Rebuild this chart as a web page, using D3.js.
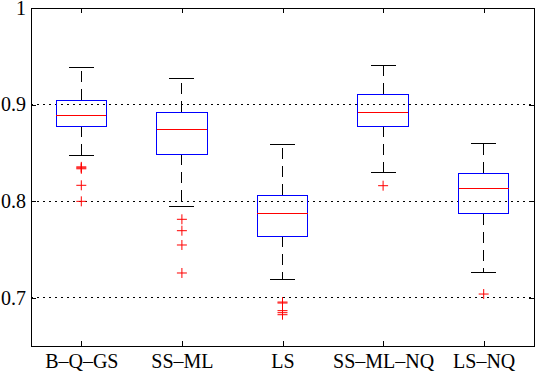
<!DOCTYPE html>
<html>
<head>
  <meta charset="UTF-8"/>
  <title>Box plot</title>
  <style>
    body { margin: 0; background: #fff; }
    svg { display: block; }
    .grid { stroke: #000; stroke-dasharray: 1.5,4.5; }
    .whisker { stroke: #000; stroke-dasharray: 11,7; }
    line, rect { shape-rendering: crispEdges; }
  </style>
  <script src="https://d3js.org/d3.v7.min.js"></script>
</head>
<body>
<svg width="536" height="372"></svg>
<script>
// data
var categories = ["B\u2013Q\u2013GS", "SS\u2013ML", "LS", "SS\u2013ML\u2013NQ", "LS\u2013NQ"];
var upper  = [0.9386, 0.9272, 0.8589, 0.9407, 0.8599];
var q3     = [0.9044, 0.8919, 0.8061, 0.9106, 0.8288];
var median = [0.8889, 0.8744, 0.7874, 0.8920, 0.8133];
var q1     = [0.8775, 0.8485, 0.7636, 0.8775, 0.7867];
var lower  = [0.8475, 0.7943, 0.7191, 0.8299, 0.7266];
var outliers = [
  [0.8335, 0.8345, 0.8355, 0.8164, 0.7998],
  [0.7812, 0.7694, 0.7546, 0.7256],
  [0.6945, 0.6955, 0.6866, 0.6845, 0.6824],
  [0.8160],
  [0.7038]
];
var yTicks = [0.7, 0.8, 0.9, 1];
var yTickLabels = ["0.7", "0.8", "0.9", "1"];

var serif = "'Liberation Serif', 'DejaVu Serif', 'Times New Roman', serif";

var svg = d3.select("svg"),
    margin = {top: 8, right: 2, bottom: 26, left: 31},
    width = +svg.attr("width") - margin.left - margin.right,
    height = +svg.attr("height") - margin.top - margin.bottom;

var x = d3.scaleLinear().domain([0.5, 5.5]).range([0, width]),
    y = d3.scaleLinear().domain([0.65, 1]).range([height, 0]);

var g = svg.append("g")
    .attr("transform", "translate(" + margin.left + "," + margin.top + ")");

// dotted grid
g.selectAll(".grid")
  .data(yTicks.filter(function(t) { return t < 1; }))
  .enter().append("line")
    .attr("class", "grid")
    .attr("x1", 0).attr("x2", width)
    .attr("y1", function(d) { return y(d); })
    .attr("y2", function(d) { return y(d); });

// axes, ticks pointing inward
var xIdx = categories.map(function(d, i) { return i + 1; });

g.append("g")
    .attr("class", "axis")
    .attr("transform", "translate(0," + height + ")")
    .call(d3.axisBottom(x).tickValues(xIdx).tickSize(-5).tickPadding(8)
      .tickFormat(function(d) { return categories[d - 1]; }));
g.append("g")
    .call(d3.axisTop(x).tickValues(xIdx).tickSize(-5).tickFormat(""));
g.append("g")
    .attr("class", "axis")
    .call(d3.axisLeft(y).tickValues(yTicks).tickSize(-5).tickPadding(5)
      .tickFormat(function(d, i) { return yTickLabels[i]; }));
g.append("g")
    .attr("transform", "translate(" + width + ",0)")
    .call(d3.axisRight(y).tickValues(yTicks).tickSize(-5).tickFormat(""));

g.selectAll(".domain").remove();
g.selectAll(".tick line").attr("stroke", "#000");
g.selectAll(".axis")
    .attr("font-family", serif)
    .attr("font-size", 20);
g.selectAll(".tick text").attr("fill", "#000");

// box plots
var boxes = g.selectAll(".box")
  .data(categories)
  .enter().append("g")
    .attr("class", "box");

var bw = x(1.25) - x(1),   // half box width
    cw = x(1.125) - x(1);  // half cap width

boxes.each(function(d, i) {
  var b = d3.select(this), cx = x(i + 1);

  b.append("line").attr("class", "whisker")
    .attr("x1", cx).attr("x2", cx)
    .attr("y1", y(q3[i])).attr("y2", y(upper[i]));
  b.append("line").attr("class", "whisker")
    .attr("x1", cx).attr("x2", cx)
    .attr("y1", y(q1[i])).attr("y2", y(lower[i]));

  [upper[i], lower[i]].forEach(function(v) {
    b.append("line")
      .attr("x1", cx - cw).attr("x2", cx + cw)
      .attr("y1", y(v)).attr("y2", y(v))
      .attr("stroke", "#000");
  });

  b.append("rect")
    .attr("x", cx - bw).attr("width", 2 * bw)
    .attr("y", y(q3[i])).attr("height", y(q1[i]) - y(q3[i]))
    .attr("fill", "none").attr("stroke", "#0000ff");

  b.append("line")
    .attr("x1", cx - bw).attr("x2", cx + bw)
    .attr("y1", y(median[i])).attr("y2", y(median[i]))
    .attr("stroke", "#ff0000");

  b.selectAll(".out")
    .data(outliers[i])
    .enter().append("path")
      .attr("class", "out")
      .attr("d", function(v) {
        var py = y(v);
        return "M" + (cx - 5) + "," + py + "H" + (cx + 5) +
               "M" + cx + "," + (py - 5) + "V" + (py + 5);
      })
      .attr("stroke", "#ff0000")
      .attr("fill", "none");
});

// frame
g.append("rect")
    .attr("width", width).attr("height", height)
    .attr("fill", "none").attr("stroke", "#000");
</script>
</body>
</html>
